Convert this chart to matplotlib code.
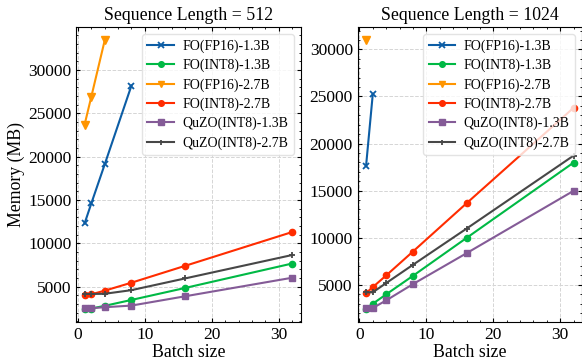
import matplotlib
matplotlib.use("Agg")
import matplotlib.pyplot as plt
from matplotlib.ticker import AutoMinorLocator

# 배치 크기
batch_512 = [1, 2, 4, 8, 16, 32]
batch_1024 = [1, 2, 4, 8, 16, 32]

# Sequence Length = 512
fp16_13b_512 = [12300, 14600, 19100, 28200]
int8_13b_512 = [2450, 2480, 2790, 3470, 4850, 7670]
fp16_27b_512 = [23700, 26900, 33400]
int8_27b_512 = [4050, 4120, 4540, 5460, 7400, 11300]
quzo_13b_512 = [2520, 2520, 2630, 2820, 3890, 6030]
quzo_27b_512 = [4160, 4160, 4180, 4600, 5950, 8650]

# Sequence Length = 1024
fp16_13b_1024 = [17650, 25250]
int8_13b_1024 = [2450, 2990, 3980, 5950, 9970, 17980]
fp16_27b_1024 = [30950]
int8_27b_1024 = [4120, 4750, 5990, 8530, 13650, 23800]
quzo_13b_1024 = [2530, 2530, 3340, 5070, 8350, 14980]
quzo_27b_1024 = [4190, 4200, 5180, 7120, 10960, 18720]

labels = ["FO(FP16)-1.3B", "FO(INT8)-1.3B", "FO(FP16)-2.7B",
          "FO(INT8)-2.7B", "QuZO(INT8)-1.3B", "QuZO(INT8)-2.7B"]
colors = ["#0C5DA5", "#00B945", "#FF9500", "#FF2C00", "#845B97", "#474747"]
markers = ["x", "o", "v", "o", "s", "+"]
msizes = [5, 4.5, 5.5, 4.5, 4.5, 4]

plt.rcParams["font.family"] = ["Liberation Serif", "DejaVu Serif"]
plt.rcParams["xtick.direction"] = "in"
plt.rcParams["ytick.direction"] = "in"
plt.rcParams["xtick.top"] = True
plt.rcParams["ytick.right"] = True
plt.rcParams["xtick.major.size"] = 3
plt.rcParams["ytick.major.size"] = 3
plt.rcParams["xtick.minor.size"] = 1.5
plt.rcParams["ytick.minor.size"] = 1.5
plt.rcParams["xtick.minor.visible"] = True
plt.rcParams["ytick.minor.visible"] = True
plt.rcParams["axes.linewidth"] = 0.8

fig, axes = plt.subplots(1, 2, figsize=(5.82, 3.6), dpi=100)
fig.subplots_adjust(left=0.131, right=1.0, bottom=0.105, top=0.925, wspace=0.255)

panels = [
    (axes[0], "Sequence Length = 512", batch_512,
     [fp16_13b_512, int8_13b_512, fp16_27b_512, int8_27b_512, quzo_13b_512, quzo_27b_512]),
    (axes[1], "Sequence Length = 1024", batch_1024,
     [fp16_13b_1024, int8_13b_1024, fp16_27b_1024, int8_27b_1024, quzo_13b_1024, quzo_27b_1024]),
]

for ax, title, xs, series in panels:
    for ys, lab, c, m, ms in zip(series, labels, colors, markers, msizes):
        mew = 1.3 if m in ("x", "+") else 1.0
        ax.plot(xs[:len(ys)], ys, color=c, marker=m, markersize=ms,
                markeredgewidth=mew, linewidth=1.5, label=lab)
    ax.set_title(title, fontsize=12.8, pad=5)
    ax.set_xlabel("Batch size", fontsize=12.8, labelpad=1)
    ax.set_xlim(-0.25, 33.25)
    ax.set_xticks([0, 10, 20, 30])
    ax.xaxis.set_minor_locator(AutoMinorLocator())
    ax.yaxis.set_minor_locator(AutoMinorLocator())
    ax.tick_params(labelsize=12.5)
    ax.grid(True, linestyle="--", color="#d5d5d5", linewidth=0.7)
    ax.legend(loc="upper right", fontsize=10, framealpha=0.8, edgecolor="#dddddd",
              handlelength=1.9, handletextpad=0.6, borderpad=0.4,
              labelspacing=0.42, markerscale=0.9)

axes[0].set_ylabel("Memory (MB)", fontsize=12.8, labelpad=2)

fig.savefig("out.png", dpi=100)
plt.close(fig)
